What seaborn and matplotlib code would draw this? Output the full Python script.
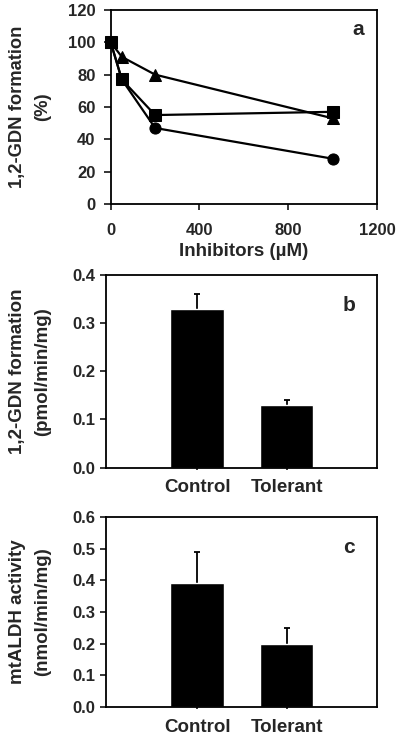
import numpy as np
import pandas as pd
import seaborn as sns
import matplotlib.pyplot as plt

# panel a: inhibitor concentration curves
conc = [0, 50, 200, 1000]
circle_vals = [100, 77, 47, 28]
square_vals = [100, 77, 55, 57]
triangle_vals = [100, 91, 80, 53]

# panel b: 1,2-GDN formation
groups = ['Control', 'Tolerant']
gdn_vals = [0.33, 0.13]
gdn_err = [0.03, 0.01]

# panel c: mtALDH activity
aldh_vals = [0.39, 0.20]
aldh_err = [0.10, 0.05]

sns.set_style('ticks')
plt.rcParams['font.family'] = ['Liberation Sans', 'DejaVu Sans']
plt.rcParams['font.weight'] = 'bold'
plt.rcParams['axes.labelweight'] = 'bold'
plt.rcParams['axes.linewidth'] = 1.3
plt.rcParams['xtick.major.width'] = 1.3
plt.rcParams['ytick.major.width'] = 1.3
plt.rcParams['xtick.labelsize'] = 12
plt.rcParams['ytick.labelsize'] = 12

fig = plt.figure(figsize=(4, 7.38), dpi=100)
ax_a = fig.add_axes([0.2768, 0.7236, 0.6658, 0.2629])
ax_b = fig.add_axes([0.265, 0.3663, 0.6775, 0.2611])
ax_c = fig.add_axes([0.265, 0.042, 0.6775, 0.2575])

df_a = pd.DataFrame({
    'conc': conc * 3,
    'val': circle_vals + square_vals + triangle_vals,
    'inhibitor': ['circle'] * 4 + ['square'] * 4 + ['triangle'] * 4,
})
sns.lineplot(data=df_a, x='conc', y='val', style='inhibitor',
             markers={'circle': 'o', 'square': 's', 'triangle': '^'},
             dashes=False, color='black', linewidth=1.6, markersize=8,
             markeredgecolor='black', legend=False, ax=ax_a, clip_on=False)
ax_a.set_xlim(0, 1200)
ax_a.set_ylim(0, 120)
ax_a.set_xticks([0, 400, 800, 1200])
ax_a.set_yticks(range(0, 121, 20))
ax_a.tick_params(axis='x', length=4, pad=10)
ax_a.tick_params(axis='y', length=5, pad=6)
ax_a.set_xlabel('Inhibitors (\u00b5M)', fontsize=13.5, labelpad=3)
ax_a.set_ylabel('1,2-GDN formation\n(%)', fontsize=13.2, linespacing=1.6)
ax_a.yaxis.set_label_coords(-0.224, 0.5)
ax_a.text(0.93, 0.9, 'a', transform=ax_a.transAxes, fontsize=15,
          fontweight='bold', ha='center', va='center')

def bar_panel(ax, vals, errs, ymax, step, ylabel, letter):
    df = pd.DataFrame({'group': groups, 'val': vals})
    sns.barplot(data=df, x='group', y='val', color='black', width=0.6,
                errorbar=None, ax=ax, saturation=1)
    # error bars drawn behind the bars so only the upper half shows
    ax.errorbar([0, 1], vals, yerr=errs, fmt='none', ecolor='black',
                elinewidth=1.3, capsize=2.5, capthick=1.3, zorder=0.5)
    ax.set_xlim(-1.02, 2.01)
    ax.set_ylim(0, ymax)
    ax.set_yticks(np.round(np.arange(0, ymax + step / 2, step), 2))
    ax.yaxis.set_major_formatter(plt.FormatStrFormatter('%.1f'))
    ax.tick_params(axis='x', length=1.5, labelsize=13.5, pad=7)
    ax.tick_params(axis='y', length=4.3, pad=3.5)
    ax.set_xlabel('')
    ax.set_ylabel(ylabel, fontsize=13.5, linespacing=1.6)
    ax.yaxis.set_label_coords(-0.203, 0.5)
    ax.text(0.895, 0.84, letter, transform=ax.transAxes, fontsize=15,
            fontweight='bold', ha='center', va='center')

bar_panel(ax_b, gdn_vals, gdn_err, 0.4, 0.1,
          '1,2-GDN formation\n(pmol/min/mg)', 'b')
bar_panel(ax_c, aldh_vals, aldh_err, 0.6, 0.1,
          'mtALDH activity\n(nmol/min/mg)', 'c')

for ax in (ax_a, ax_b, ax_c):
    for s in ax.spines.values():
        s.set_visible(True)
        s.set_color('black')

fig.savefig('out.png', dpi=100)
